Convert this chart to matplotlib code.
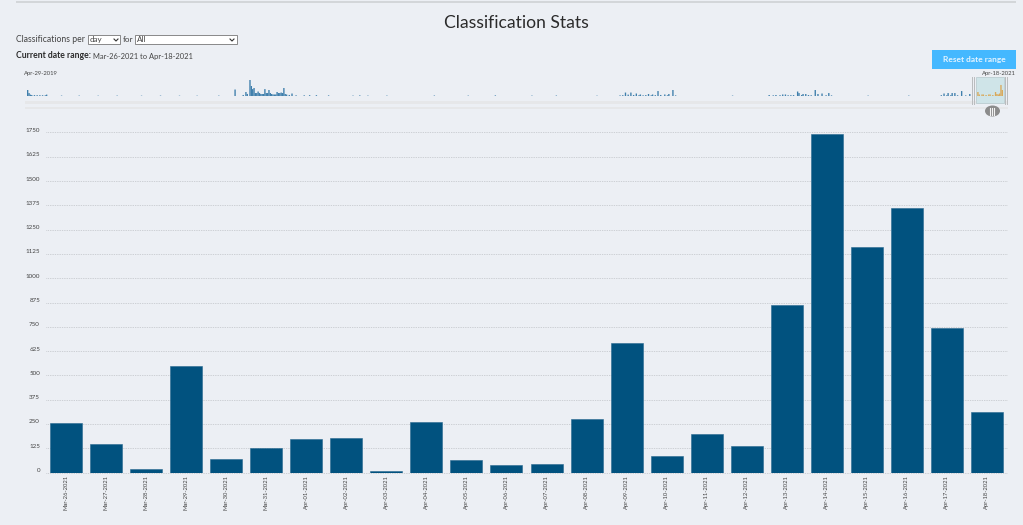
import matplotlib
matplotlib.use('Agg')
import matplotlib.pyplot as plt
from matplotlib.patches import Rectangle, Ellipse
from matplotlib.transforms import ScaledTranslation

# main chart
dates = ['Mar-26-2021', 'Mar-27-2021', 'Mar-28-2021', 'Mar-29-2021', 'Mar-30-2021',
         'Mar-31-2021', 'Apr-01-2021', 'Apr-02-2021', 'Apr-03-2021', 'Apr-04-2021',
         'Apr-05-2021', 'Apr-06-2021', 'Apr-07-2021', 'Apr-08-2021', 'Apr-09-2021',
         'Apr-10-2021', 'Apr-11-2021', 'Apr-12-2021', 'Apr-13-2021', 'Apr-14-2021',
         'Apr-15-2021', 'Apr-16-2021', 'Apr-17-2021', 'Apr-18-2021']
classifications = [255, 147, 18, 548, 67, 126, 170, 178, 7, 260, 64, 39,
                   46, 275, 667, 85, 200, 136, 862, 1740, 1160, 1361, 744, 311]
y_ticks = [0, 125, 250, 375, 500, 625, 750, 875, 1000, 1125, 1250, 1375, 1500, 1625, 1750]

# overview strip, days counted from Apr-29-2019
overview_days = [0, 1, 2, 3, 5, 7, 9, 11, 13, 14, 25, 38, 52, 66, 84, 98, 112, 125, 141, 153,
                 159, 161, 162, 164, 165, 166, 167, 168, 169, 170, 171, 172, 173, 174, 175,
                 176, 177, 178, 179, 180, 181, 182, 183, 184, 185, 186, 187, 188, 189, 190,
                 191, 193, 195, 198, 204, 208, 213, 222, 240, 245, 251, 265, 300, 325, 345,
                 372, 390, 420, 437, 439, 441, 443, 445, 447, 449, 451, 452, 454, 456, 458,
                 460, 461, 463, 465, 467, 470, 472, 473, 476, 478, 520, 547, 550, 552, 555,
                 557, 559, 561, 563, 565, 568, 569, 571, 572, 574, 576, 578, 581, 583, 586,
                 589, 591, 593, 620, 650, 674, 676, 678, 679, 681, 682, 684, 686, 689, 692, 695]
overview_values = [870, 430, 200, 140, 130, 120, 120, 110, 100, 200, 60, 60, 50, 60, 50, 60, 50, 50, 60, 940,
                   150, 580, 300, 2320, 1450, 1000, 1160, 430, 430, 650, 430, 290, 290, 290, 1000,
                   430, 430, 870, 430, 290, 220, 220, 220, 580, 430, 430, 500, 430, 1160, 290,
                   220, 150, 360, 100, 100, 120, 120, 90, 60, 90, 60, 60, 70, 60, 90,
                   60, 70, 50, 90, 120, 500, 200, 500, 150, 360, 120, 220, 100, 130, 290,
                   100, 220, 120, 720, 150, 220, 100, 290, 870, 90, 60, 145, 100, 145, 120,
                   220, 220, 110, 120, 130, 650, 430, 150, 290, 290, 140, 110, 870, 290, 360,
                   110, 430, 90, 60, 60, 120, 360, 100, 430, 120, 430, 430, 110, 720, 90, 290]
selected_days = [701, 702, 704, 705, 707, 709, 710, 712, 714, 715, 716, 717, 718, 719]
selected_values = [580, 220, 220, 220, 145, 220, 220, 145, 580, 290, 220, 360, 1600, 870]
total_days = 720
overview_top = 2900

BG = '#eceff4'
BAR = '#01527f'
TEXT = '#444444'
FONT = 'Lato'

fig = plt.figure(figsize=(10.23, 5.25), dpi=100, facecolor=BG)
W, H = 1023, 525


def px_axes(x0, y0, x1, y1):
    # axes from pixel box, y counted from the top
    return fig.add_axes([x0 / W, 1 - y1 / H, (x1 - x0) / W, (y1 - y0) / H])


# page widgets, drawn in pixel coordinates
ui = fig.add_axes([0, 0, 1, 1])
ui.set_xlim(0, W)
ui.set_ylim(H, 0)
ui.axis('off')
ui.add_patch(Rectangle((16, 1.2), 1000, 1.6, color='#d3d6d9', lw=0))
ui.text(516, 23, 'Classification Stats', ha='center', va='center', fontsize=12.6,
        family=FONT, color='#2b2b2b')
ui.text(16, 40, 'Classifications per', ha='left', va='center', fontsize=6.25, family=FONT, color=TEXT)
ui.add_patch(Rectangle((88, 35), 32, 9.2, fc='white', ec='#777777', lw=0.6))
ui.text(90, 39.6, 'day', ha='left', va='center', fontsize=5.8, family=FONT, color=TEXT)
ui.plot([114, 116, 118], [39, 41, 39], color='#333333', lw=0.8)
ui.text(123, 40, 'for', ha='left', va='center', fontsize=5.9, family=FONT, color=TEXT)
ui.add_patch(Rectangle((135, 35), 102, 9.2, fc='white', ec='#777777', lw=0.6))
ui.text(137, 39.6, 'All', ha='left', va='center', fontsize=5.8, family=FONT, color=TEXT)
ui.plot([230, 232, 234], [39, 41, 39], color='#333333', lw=0.8)
ui.text(16, 56, 'Current date range:', ha='left', va='center', fontsize=6.2, family=FONT,
        fontweight='bold', color='#2b2b2b')
ui.text(93, 56, 'Mar-26-2021 to Apr-18-2021', ha='left', va='center', fontsize=5.4, family=FONT, color=TEXT)
ui.add_patch(Rectangle((932, 50), 84, 19, fc='#44b8ff', ec='none'))
ui.text(974, 59.5, 'Reset date range', ha='center', va='center', fontsize=6, family=FONT,
        fontweight='bold', color='#e4f4ff')
ui.text(24, 73, 'Apr-29-2019', ha='left', va='center', fontsize=4.2, family=FONT, color=TEXT)
ui.text(1016, 73, 'Apr-18-2021', ha='right', va='center', fontsize=4.2, family=FONT, color=TEXT)

# scroll rails and the selected window
ui.add_patch(Rectangle((25, 101), 983, 3, color='#e6e7e9', lw=0))
ui.add_patch(Rectangle((25, 107), 983, 2, color='#e6e7e9', lw=0))
ui.add_patch(Rectangle((976, 77), 27.5, 26, fc='#cfe4e8', ec='#b5c8cc', lw=0.5))
for hx in (971.5, 974, 1005, 1007):
    ui.plot([hx, hx], [77, 104], color='#b9bbbd', lw=0.7)
ui.add_patch(Ellipse((992.5, 111), 15, 11, fc='#8b8b8b', ec='none'))
for hx in (990.3, 992.3, 994.3):
    ui.plot([hx, hx], [107.5, 114.5], color='#f2f2f2', lw=0.8)

# overview bars
ov = px_axes(27, 76, 1003, 96)
ov.set_xlim(0, total_days)
ov.set_ylim(0, overview_top)
ov.axis('off')
ov.patch.set_alpha(0)
for days, values, colour in ((overview_days, overview_values, '#3f7fac'),
                             (selected_days, selected_values, '#d9a95a')):
    for b in ov.bar(days, values, width=1.0, align='edge', color=colour, lw=0):
        b.set_snap(False)

# main bars
ax = px_axes(46, 132.5, 1007, 472.5)
ax.patch.set_alpha(0)
ax.bar(range(len(dates)), classifications, width=0.8, color=BAR, edgecolor='#27688f', lw=0.4, zorder=3)
ax.set_xlim(-0.5, len(dates) - 0.5)
ax.set_ylim(0, 1750)
ax.set_yticks(y_ticks)
ax.set_yticklabels([str(v) for v in y_ticks], fontsize=4.5, family=FONT, color=TEXT)
ax.set_xticks(range(len(dates)))
ax.set_xticklabels(dates, rotation=90, fontsize=4.2, family=FONT, color=TEXT)
ax.tick_params(axis='both', length=0)
ax.tick_params(axis='y', pad=4.3)
ax.tick_params(axis='x', pad=2)
ax.grid(axis='y', color='#aeb1b5', lw=0.5, ls=(0, (1, 1.5)), zorder=0)
for line in ax.get_ygridlines():
    line.set_clip_on(False)
for side in ax.spines.values():
    side.set_visible(False)
shift = ScaledTranslation(0, 2.5 / 100, fig.dpi_scale_trans)
for lab in ax.get_yticklabels():
    lab.set_transform(lab.get_transform() + shift)

fig.savefig('out.png', dpi=100, facecolor=BG)
